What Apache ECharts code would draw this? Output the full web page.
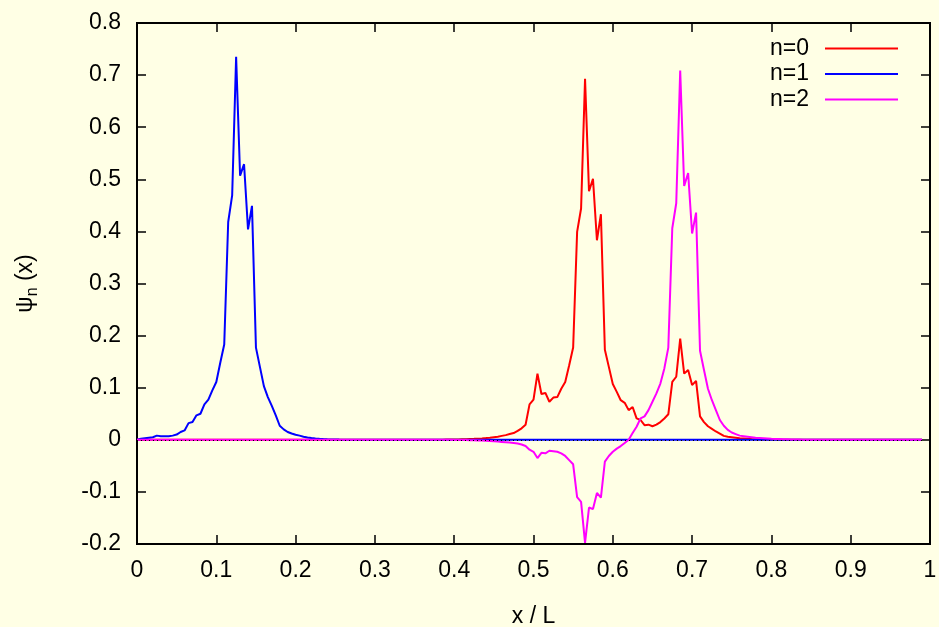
<!DOCTYPE html>
<html>
<head>
<meta charset="utf-8">
<script src="https://cdn.jsdelivr.net/npm/echarts@6/dist/echarts.min.js"></script>
<style>
html,body{margin:0;padding:0;background:#ffffe5;}
#chart{width:939px;height:627px;}
</style>
</head>
<body>
<div id="chart"></div>
<script>
// Series names
var seriesNames = ['n=0', 'n=1', 'n=2'];
// x grid: sample index * 0.005 (0 .. 0.99)
var xStep = 0.005;
var nPoints = 199;
var xs = [];
for (var i = 0; i < nPoints; i++) { xs.push(+(i * xStep).toFixed(3)); }

// psi_0(x)
var psi0 = [
0,0,0,0,0,0,0,0,0,0,
0,0,0,0,0,0,0,0,0,0,
0,0,0,0,0,0,0,0,0,0,
0,0,0,0,0,0,0,0,0,0,
0,0,0,0,0,0,0,0,0,0,
0,0,0,0,0,0,0,0,0,0,
0,0,0,0,0,0,0,0,0,0,
0,0,0,0,0,0,
0.0002,0.0003,0.0004,0.0005,0.0006,0.0008,0.001,0.0012,0.0015,0.0018,
0.0022,0.0027,0.0033,0.004,0.005,0.006,0.0075,0.009,0.011,0.013,
0.017,0.022,0.029,0.068,0.077,0.127,0.088,0.090,0.073,0.081,
0.082,0.098,0.111,0.143,0.177,0.399,0.444,0.693,0.477,0.501,
0.383,0.433,0.173,0.140,0.107,0.092,0.076,0.071,0.057,0.063,
0.041,0.038,0.028,0.029,0.026,0.029,0.034,0.041,0.049,0.111,
0.121,0.194,0.127,0.134,0.105,0.113,0.045,0.034,0.026,0.021,
0.016,0.012,0.0075,0.006,0.005,0.004,0.003,0.0025,0.002,0.0015,
0.0012,0.001,0.0008,0.0006,0.0005,0.0004,0.0003,0.0002,0.0001,
0,0,0,0,0,0,0,0,0,0,
0,0,0,0,0,0,0,0,0,0,
0,0,0,0,0,0,0,0,0,0,
0,0,0,0
];

// psi_1(x)
var psi1 = [
0,0.002,0.003,0.004,0.005,0.008,0.007,0.007,0.007,0.008,
0.010,0.015,0.018,0.032,0.034,0.047,0.050,0.068,0.077,0.095,
0.111,0.148,0.183,0.418,0.469,0.735,0.507,0.529,0.404,0.449,
0.177,0.140,0.103,0.082,0.065,0.047,0.027,0.020,0.015,0.012,
0.0096,0.008,0.006,0.0045,0.0035,0.0027,0.002,0.0015,0.0011,0.0008,
0.0006,0.0004,0.0003,0.0002,0.0001,
0,0,0,0,0,0,0,0,0,0,
0,0,0,0,0,0,0,0,0,0,
0,0,0,0,0,0,0,0,0,0,
0,0,0,0,0,0,0,0,0,0,
0,0,0,0,0,0,0,0,0,0,
0,0,0,0,0,0,0,0,0,0,
0,0,0,0,0,0,0,0,0,0,
0,0,0,0,0,0,0,0,0,0,
0,0,0,0,0,0,0,0,0,0,
0,0,0,0,0,0,0,0,0,0,
0,0,0,0,0,0,0,0,0,0,
0,0,0,0,0,0,0,0,0,0,
0,0,0,0,0,0,0,0,0,0,
0,0,0,0,0,0,0,0,0,0,
0,0,0,0
];

// psi_2(x)
var psi2 = [
0,0,0,0,0,0,0,0,0,0,
0,0,0,0,0,0,0,0,0,0,
0,0,0,0,0,0,0,0,0,0,
0,0,0,0,0,0,0,0,0,0,
0,0,0,0,0,0,0,0,0,0,
0,0,0,0,0,0,0,0,0,0,
0,0,0,0,0,0,0,0,0,0,
0,0,0,0,0,0,0,0,0,0,
-0.0003,-0.0004,-0.0005,-0.0006,-0.0008,-0.001,-0.0012,-0.0015,-0.002,-0.0025,
-0.003,-0.0035,-0.004,-0.0045,-0.005,-0.006,-0.007,-0.009,-0.012,-0.019,
-0.023,-0.035,-0.025,-0.026,-0.021,-0.022,-0.023,-0.026,-0.031,-0.039,
-0.047,-0.110,-0.119,-0.198,-0.130,-0.133,-0.102,-0.111,-0.042,-0.031,
-0.023,-0.017,-0.012,-0.006,0.0,0.013,0.025,0.041,0.045,0.057,
0.073,0.089,0.108,0.137,0.177,0.406,0.454,0.709,0.487,0.512,
0.396,0.436,0.171,0.134,0.098,0.076,0.057,0.038,0.027,0.019,
0.014,0.011,0.008,0.007,0.006,0.005,0.004,0.0035,0.003,0.0025,
0.002,0.0017,0.0014,0.0011,0.0009,0.0007,0.0005,0.0004,0.0003,0.0002,
0.0001,
0,0,0,0,0,0,0,0,0,0,
0,0,0,0,0,0,0,0,0,0,
0,0,0,0,0,0,0,0
];

var seriesColors = ['#ff0000', '#0000ff', '#ff00ff'];
var xTickLabels = ['0','0.1','0.2','0.3','0.4','0.5','0.6','0.7','0.8','0.9','1'];
var yTickLabels = ['-0.2','-0.1','0','0.1','0.2','0.3','0.4','0.5','0.6','0.7','0.8'];

function pairs(ys) {
  var out = [];
  for (var k = 0; k < xs.length && k < ys.length; k++) out.push([xs[k], ys[k]]);
  return out;
}

var FONT = 'Liberation Sans, Arial, sans-serif';
var chart = echarts.init(document.getElementById('chart'), null, {renderer: 'canvas'});

function axLine() { return {show: true, onZero: false, lineStyle: {color: '#000', width: 2}}; }
function axTick() { return {show: true, inside: true, length: 9, lineStyle: {color: '#000', width: 1.5}}; }

var option = {
  animation: false,
  backgroundColor: '#ffffe5',
  grid: {left: 137, right: 9, top: 23, bottom: 83, containLabel: false, outerBoundsMode: 'none',
         show: true, borderColor: '#000', borderWidth: 2, backgroundColor: 'transparent'},
  legend: {
    data: seriesNames,
    orient: 'vertical',
    right: 36,
    top: 32,
    align: 'right',
    icon: 'rect',
    itemWidth: 73,
    itemHeight: 2,
    itemGap: 2.5,
    textStyle: {fontFamily: FONT, fontSize: 23, color: '#000', padding: [0, 11, 0, 0]}
  },
  xAxis: [{
    type: 'value', min: 0, max: 1, interval: 0.1, position: 'bottom',
    axisLine: axLine(), axisTick: axTick(), splitLine: {show: false},
    axisLabel: {
      fontFamily: FONT, fontSize: 23, color: '#000', margin: 15,
      formatter: function (v) { return xTickLabels[Math.round(v * 10)]; }
    },
    name: 'x / L', nameLocation: 'middle', nameGap: 61,
    nameTextStyle: {fontFamily: FONT, fontSize: 23, color: '#000'}
  }, {
    type: 'value', min: 0, max: 1, interval: 0.1, position: 'top',
    axisLine: axLine(), axisTick: axTick(), splitLine: {show: false},
    axisLabel: {show: false}
  }],
  yAxis: [{
    type: 'value', min: -0.2, max: 0.8, interval: 0.1, position: 'left',
    axisLine: axLine(), axisTick: axTick(), splitLine: {show: false},
    axisLabel: {
      fontFamily: FONT, fontSize: 23, color: '#000', margin: 16,
      formatter: function (v) { return yTickLabels[Math.round(v * 10) + 2]; }
    },
    name: '{a|ψ}{s|n}{a| (x)}', nameLocation: 'middle', nameGap: 96, nameRotate: 90,
    nameTextStyle: {
      fontFamily: FONT, fontSize: 23, color: '#000',
      rich: {
        a: {fontFamily: FONT, fontSize: 23, color: '#000', lineHeight: 30, verticalAlign: 'middle'},
        s: {fontFamily: FONT, fontSize: 16, color: '#000', lineHeight: 30, verticalAlign: 'bottom'}
      }
    }
  }, {
    type: 'value', min: -0.2, max: 0.8, interval: 0.1, position: 'right',
    axisLine: axLine(), axisTick: axTick(), splitLine: {show: false},
    axisLabel: {show: false}
  }],
  series: [
    {name: seriesNames[0], type: 'line', data: pairs(psi0), showSymbol: false, symbol: 'none',
     lineStyle: {color: seriesColors[0], width: 2}, itemStyle: {color: seriesColors[0]}, z: 2},
    {name: seriesNames[1], type: 'line', data: pairs(psi1), showSymbol: false, symbol: 'none',
     lineStyle: {color: seriesColors[1], width: 2}, itemStyle: {color: seriesColors[1]}, z: 3},
    {name: seriesNames[2], type: 'line', data: pairs(psi2), showSymbol: false, symbol: 'none',
     lineStyle: {color: seriesColors[2], width: 2}, itemStyle: {color: seriesColors[2]}, z: 4,
     markLine: {
       silent: true, symbol: ['none', 'none'], animation: false,
       label: {show: false},
       lineStyle: {color: '#000', width: 1, type: [1, 3]},
       data: [[{coord: [xs[0], 0]}, {coord: [xs[xs.length - 1], 0]}]]
     }}
  ]
};
chart.setOption(option);
</script>
</body>
</html>
